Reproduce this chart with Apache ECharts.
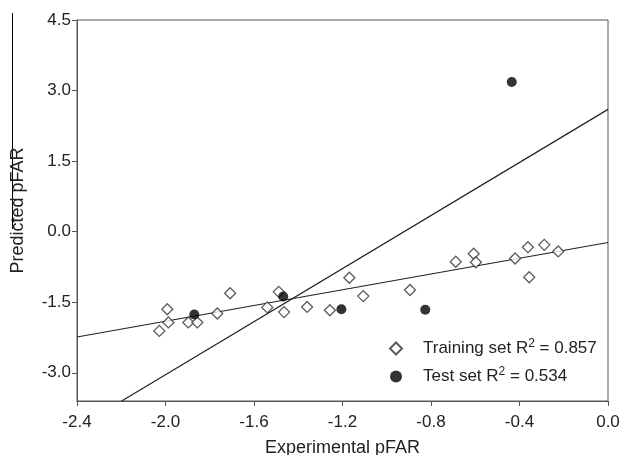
<!DOCTYPE html>
<html>
<head>
<meta charset="utf-8">
<script src="https://cdn.jsdelivr.net/npm/echarts@6/dist/echarts.min.js"></script>
<style>
	html, body { margin: 0; padding: 0; background: #fff; }
	#chart { width: 619px; height: 455px; }
</style>
</head>
<body>
<div id="chart"></div>
<script>
	// training set (open diamonds)
	var trainX = [-2.028, -1.992, -1.987, -1.897, -1.856, -1.766, -1.708, -1.540, -1.488, -1.464, -1.360, -1.257,
		-1.169, -1.106, -0.895, -0.688, -0.607, -0.597, -0.420, -0.362, -0.356, -0.288, -0.225];
	var trainY = [-2.11, -1.65, -1.93, -1.93, -1.93, -1.74, -1.31, -1.61, -1.28, -1.71, -1.60, -1.67,
		-0.98, -1.37, -1.24, -0.64, -0.47, -0.65, -0.57, -0.33, -0.97, -0.28, -0.42];
	// test set (filled circles)
	var testX = [-1.870, -1.468, -1.205, -0.826, -0.435];
	var testY = [-1.76, -1.38, -1.65, -1.66, 3.18];
	// fitted lines, end points
	var trainLineX = [-2.4, 0.0];
	var trainLineY = [-2.24, -0.23];
	var testLineX = [-2.198, 0.0];
	var testLineY = [-3.6, 2.60];

	var xTicks = [-2.4, -2.0, -1.6, -1.2, -0.8, -0.4, 0.0];
	var yTicks = [-3.0, -1.5, 0.0, 1.5, 3.0, 4.5];

	function pairs(xs, ys) {
		var out = [];
		for (var i = 0; i < xs.length; i++) out.push([xs[i], ys[i]]);
		return out;
	}

	var axisCol = '#555';
	var txtCol = '#222';
	var font = 'Liberation Sans, Arial, sans-serif';

	var myChart = echarts.init(document.getElementById('chart'), null, {renderer: 'canvas'});
	var option = {
		animation: false,
		backgroundColor: '#fff',
		grid: {
			left: 77, right: 11, top: 20, bottom: 54,
			outerBoundsMode: 'none', containLabel: false,
			show: true, borderColor: axisCol, borderWidth: 1
		},
		legend: {
			data: ['Training', 'Test'],
			orient: 'vertical',
			left: 384, top: 333,
			itemWidth: 12, itemHeight: 12,
			itemGap: 9,
			textStyle: {
				fontFamily: font, fontSize: 17, color: txtCol,
				padding: [0, 0, 0, 16],
				rich: {
					sup: {fontFamily: font, fontSize: 12, color: txtCol, padding: [0, 0, 9, 0]}
				}
			},
			formatter: function (name) {
				return name === 'Training' ? 'Training set R{sup|2} = 0.857' : 'Test set R{sup|2} = 0.534';
			}
		},
		xAxis: {
			type: 'value',
			min: -2.4, max: 0, interval: 0.4,
			name: 'Experimental pFAR',
			nameLocation: 'middle', nameGap: 38,
			nameTextStyle: {fontFamily: font, fontSize: 18, color: txtCol},
			axisLine: {show: true, onZero: false, lineStyle: {color: axisCol}},
			axisTick: {show: true, length: 5, lineStyle: {color: axisCol}, customValues: xTicks},
			axisLabel: {
				fontFamily: font, fontSize: 17, color: txtCol, margin: 13, customValues: xTicks,
				formatter: function (v) { return v.toFixed(1); }
			},
			splitLine: {show: false}
		},
		yAxis: {
			type: 'value',
			min: -3.6, max: 4.5,
			name: 'Predicted pFAR',
			nameLocation: 'middle', nameGap: 50,
			nameTextStyle: {fontFamily: font, fontSize: 18, color: txtCol},
			axisLine: {show: true, onZero: false, lineStyle: {color: axisCol}},
			axisTick: {show: true, length: 5, lineStyle: {color: axisCol}, customValues: yTicks},
			axisLabel: {
				fontFamily: font, fontSize: 17, color: txtCol, margin: 6, customValues: yTicks,
				formatter: function (v) { return v.toFixed(1); }
			},
			splitLine: {show: false}
		},
		graphic: [{
			type: 'line',
			shape: {x1: 12.5, y1: 13, x2: 12.5, y2: 229},
			style: {stroke: '#000', lineWidth: 1}
		}],
		series: [
			{
				name: 'trainFit', type: 'line', data: pairs(trainLineX, trainLineY),
				symbol: 'none', lineStyle: {color: '#222', width: 1.2}, silent: true, z: 1
			},
			{
				name: 'testFit', type: 'line', data: pairs(testLineX, testLineY),
				symbol: 'none', lineStyle: {color: '#222', width: 1.2}, silent: true, z: 1
			},
			{
				name: 'Training', type: 'scatter', data: pairs(trainX, trainY),
				symbol: 'diamond', symbolSize: 11,
				itemStyle: {color: '#fff', borderColor: '#333', borderWidth: 1.3}, z: 3
			},
			{
				name: 'Test', type: 'scatter', data: pairs(testX, testY),
				symbol: 'circle', symbolSize: 10,
				itemStyle: {color: '#000'}, z: 4
			}
		]
	};
	myChart.setOption(option);
</script>
</body>
</html>
